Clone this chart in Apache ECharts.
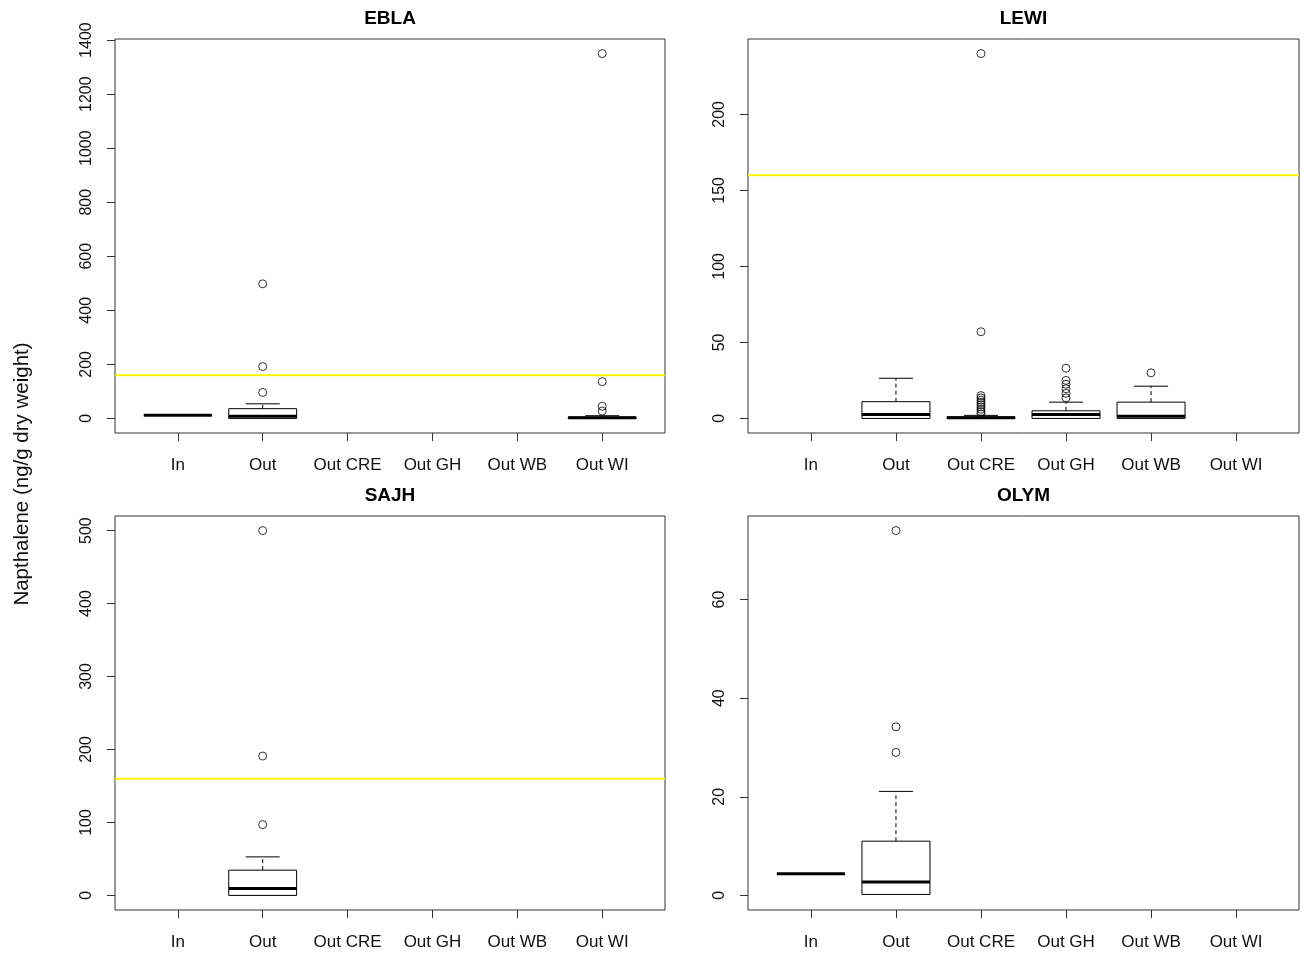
<!DOCTYPE html>
<html>
<head>
<meta charset="utf-8">
<script src="https://cdn.jsdelivr.net/npm/echarts@6/dist/echarts.min.js"></script>
<style>
html,body{margin:0;padding:0;background:#fff;}
#chart{width:1308px;height:954px;}
</style>
</head>
<body>
<div id="chart"></div>
<script>
// ---- data ----
const categories = ['In', 'Out', 'Out CRE', 'Out GH', 'Out WB', 'Out WI'];
const panelNames = ['EBLA', 'LEWI', 'SAJH', 'OLYM'];
const yTitle = 'Napthalene (ng/g dry weight)';
const threshold = 160;

// box stats: [category position, min, q1, median, q3, max]
const eblaBoxes = [[1, 12, 12, 12, 12, 12], [2, 0, 0, 8, 36, 54], [6, 0, 0, 2, 5, 10]];
const eblaOutliers = [[2, 96], [2, 192], [2, 498], [6, 27], [6, 45], [6, 136], [6, 1350]];
const eblaTicks = [0, 200, 400, 600, 800, 1000, 1200, 1400];

const lewiBoxes = [[2, 0, 0, 2.6, 11, 26.4], [3, 0, 0, 0.5, 1, 2], [4, 0, 0, 2.5, 5, 10.7], [5, 0, 0, 1.5, 10.7, 21.2]];
const lewiOutliers = [[3, 3], [3, 4.5], [3, 6], [3, 7.5], [3, 9], [3, 10.5], [3, 12], [3, 13.5], [3, 15], [3, 57], [3, 240],
  [4, 13.5], [4, 16.5], [4, 19.5], [4, 22.5], [4, 25], [4, 33], [5, 30]];
const lewiTicks = [0, 50, 100, 150, 200];

const sajhBoxes = [[2, 0, 0, 9.6, 34.6, 52.8]];
const sajhOutliers = [[2, 97], [2, 191], [2, 500]];
const sajhTicks = [0, 100, 200, 300, 400, 500];

const olymBoxes = [[1, 4.4, 4.4, 4.4, 4.4, 4.4], [2, 0.2, 0.2, 2.7, 11, 21.1]];
const olymOutliers = [[2, 29], [2, 34.2], [2, 74]];
const olymTicks = [0, 20, 40, 60];

const showThreshold = [true, true, true, false];

// ---- layout ----
const FONT = '"Liberation Sans", Arial, Helvetica, sans-serif';
const grids = [
  { left: 115, top: 39, width: 550, height: 394 },
  { left: 748, top: 39, width: 551, height: 394 },
  { left: 115, top: 516, width: 550, height: 394 },
  { left: 748, top: 516, width: 551, height: 394 }
];
const panels = [
  { boxes: eblaBoxes, outliers: eblaOutliers, ticks: eblaTicks },
  { boxes: lewiBoxes, outliers: lewiOutliers, ticks: lewiTicks },
  { boxes: sajhBoxes, outliers: sajhOutliers, ticks: sajhTicks },
  { boxes: olymBoxes, outliers: olymOutliers, ticks: olymTicks }
];
const nCat = categories.length;
const xMin = 0.5 - 0.04 * nCat, xMax = nCat + 0.5 + 0.04 * nCat;

function yRange(p) {
  let lo = 0, hi = -Infinity;
  p.boxes.forEach(b => { for (let i = 1; i < 6; i++) { lo = Math.min(lo, b[i]); hi = Math.max(hi, b[i]); } });
  p.outliers.forEach(o => { lo = Math.min(lo, o[1]); hi = Math.max(hi, o[1]); });
  const ext = (hi - lo) * 0.04;
  return [lo - ext, hi + ext];
}

function renderBox(params, api) {
  const x = api.value(0);
  const vMin = api.value(1), q1 = api.value(2), med = api.value(3), q3 = api.value(4), vMax = api.value(5);
  const pMin = api.coord([x, vMin]), pQ1 = api.coord([x, q1]), pMed = api.coord([x, med]);
  const pQ3 = api.coord([x, q3]), pMax = api.coord([x, vMax]);
  const half = api.size([0.4, 0])[0];
  const cap = api.size([0.2, 0])[0];
  const cx = pMed[0];
  const ch = [];
  const dash = { stroke: '#000', lineWidth: 1, lineDash: [4, 3] };
  const solid = { stroke: '#000', lineWidth: 1 };
  if (vMax > q3) {
    ch.push({ type: 'line', shape: { x1: cx, y1: pQ3[1], x2: cx, y2: pMax[1] }, style: dash });
    ch.push({ type: 'line', shape: { x1: cx - cap, y1: pMax[1], x2: cx + cap, y2: pMax[1] }, style: solid });
  }
  if (vMin < q1) {
    ch.push({ type: 'line', shape: { x1: cx, y1: pQ1[1], x2: cx, y2: pMin[1] }, style: dash });
    ch.push({ type: 'line', shape: { x1: cx - cap, y1: pMin[1], x2: cx + cap, y2: pMin[1] }, style: solid });
  }
  ch.push({ type: 'rect', shape: { x: cx - half, y: pQ3[1], width: 2 * half, height: pQ1[1] - pQ3[1] },
    style: { fill: '#fff', stroke: '#000', lineWidth: 1 } });
  ch.push({ type: 'line', shape: { x1: cx - half, y1: pMed[1], x2: cx + half, y2: pMed[1] },
    style: { stroke: '#000', lineWidth: 3 } });
  return { type: 'group', children: ch };
}

const option = {
  backgroundColor: '#fff',
  animation: false,
  grid: grids.map(g => Object.assign({ show: true, borderColor: '#333', borderWidth: 1, backgroundColor: 'transparent' }, g)),
  xAxis: grids.map((g, i) => ({
    type: 'value', gridIndex: i, min: xMin, max: xMax, position: 'bottom',
    axisLine: { show: false, onZero: false },
    splitLine: { show: false },
    axisTick: { show: true, length: 8, inside: false, customValues: categories.map((c, k) => k + 1), lineStyle: { color: '#333' } },
    axisLabel: { show: true, customValues: categories.map((c, k) => k + 1), formatter: v => categories[Math.round(v) - 1] || '',
      fontFamily: FONT, fontSize: 17, color: '#111', margin: 24 }
  })),
  yAxis: grids.map((g, i) => {
    const r = yRange(panels[i]);
    return {
      type: 'value', gridIndex: i, min: r[0], max: r[1], position: 'left',
      axisLine: { show: false, onZero: false },
      splitLine: { show: false },
      axisTick: { show: true, length: 8, customValues: panels[i].ticks, lineStyle: { color: '#333' } },
      axisLabel: { show: true, customValues: panels[i].ticks, rotate: 90, formatter: v => String(Math.round(v)),
        fontFamily: FONT, fontSize: 16, color: '#111', margin: 20 }
    };
  }),
  graphic: [
    ...panelNames.map((n, i) => ({
      type: 'text',
      x: grids[i].left + grids[i].width / 2, y: grids[i].top - 20,
      style: { text: n, fill: '#000', font: 'bold 19px ' + FONT, textAlign: 'center', textVerticalAlign: 'middle' }
    })),
    {
      type: 'text', x: 22, y: 474, rotation: Math.PI / 2,
      style: { text: yTitle, fill: '#111', font: '20.5px ' + FONT, textAlign: 'center', textVerticalAlign: 'middle' }
    }
  ],
  series: []
};

panels.forEach((p, i) => {
  if (showThreshold[i]) {
    option.series.push({
      type: 'line', xAxisIndex: i, yAxisIndex: i, data: [[xMin, threshold], [xMax, threshold]],
      symbol: 'none', lineStyle: { color: '#f5f500', width: 2 }, silent: true, z: 1
    });
  }
  option.series.push({
    type: 'custom', xAxisIndex: i, yAxisIndex: i, data: p.boxes, renderItem: renderBox,
    encode: { x: 0, y: [1, 2, 3, 4, 5] }, z: 3
  });
  option.series.push({
    type: 'scatter', xAxisIndex: i, yAxisIndex: i, data: p.outliers,
    symbol: 'circle', symbolSize: 8,
    itemStyle: { color: 'rgba(0,0,0,0)', borderColor: '#000', borderWidth: 1 }, z: 4
  });
});

const chart = echarts.init(document.getElementById('chart'), null, { renderer: 'canvas' });
chart.setOption(option);
</script>
</body>
</html>
